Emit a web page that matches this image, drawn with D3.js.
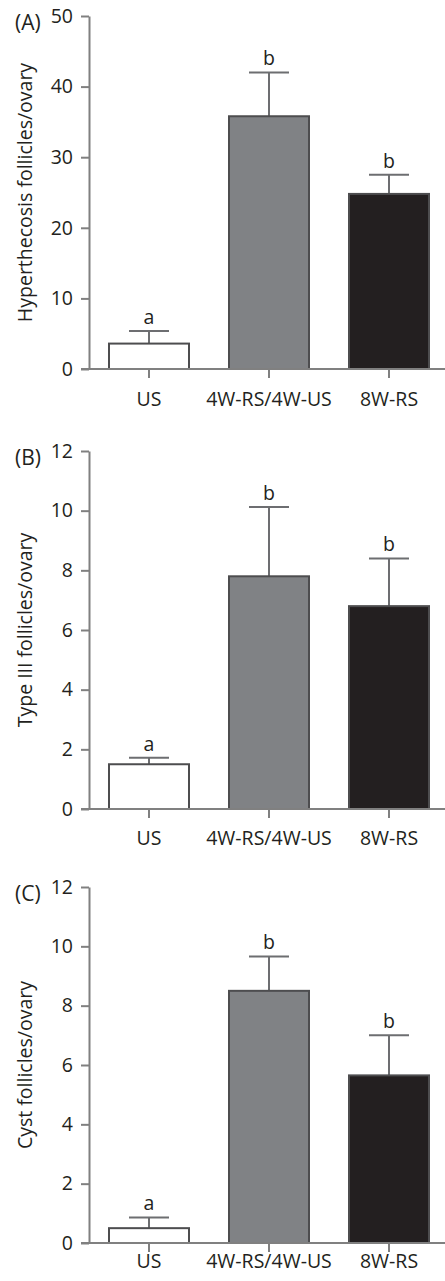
<!DOCTYPE html>
<html>
<head>
<meta charset="utf-8">
<script src="https://cdn.jsdelivr.net/npm/d3@7"></script>
<style>
  body { margin: 0; background: #fff; }
  text { font-family: "Open Sans", sans-serif; fill: #231f20; }
</style>
</head>
<body>
<div id="chart"></div>
<script>
// Data
const groups = ['US', '4W-RS/4W-US', '8W-RS'];
const panelLetters = ['(A)', '(B)', '(C)'];
const yTitles = ['Hyperthecosis follicles/ovary', 'Type III follicles/ovary', 'Cyst follicles/ovary'];
const yMax = [50, 12, 12];
const yTicks = [[0, 10, 20, 30, 40, 50], [0, 2, 4, 6, 8, 10, 12], [0, 2, 4, 6, 8, 10, 12]];
const hypMeans = [3.6, 35.8, 24.8];
const hypErr = [5.4, 42.0, 27.5];
const type3Means = [1.5, 7.8, 6.8];
const type3Err = [1.72, 10.12, 8.4];
const cystMeans = [0.5, 8.5, 5.65];
const cystErr = [0.86, 9.66, 7.0];
const sigLetters = [['a', 'b', 'b'], ['a', 'b', 'b'], ['a', 'b', 'b']];

const means = [hypMeans, type3Means, cystMeans];
const errs = [hypErr, type3Err, cystErr];

// Layout
const W = 445, H = 1281;
const axisX = 89;
const fs = 19.5;
const panels = [
  { top: 16, bottom: 369, labelOff: 37 },
  { top: 451, bottom: 809, labelOff: 36 },
  { top: 887, bottom: 1243, labelOff: 25 }
];
const fills = ['#ffffff', '#808285', '#231f20'];
const axisColor = '#808080';

const svg = d3.select('#chart').append('svg')
  .attr('width', W)
  .attr('height', H);

const x = d3.scaleBand()
  .domain(groups)
  .range([axisX, axisX + 360])
  .paddingInner(1 / 3)
  .paddingOuter(1 / 6);

panels.forEach((p, i) => {
  const g = svg.append('g');
  const y = d3.scaleLinear().domain([0, yMax[i]]).range([p.bottom, p.top]);
  const rows = groups.map((name, j) => ({ name: name, v: means[i][j], e: errs[i][j], s: sigLetters[i][j], fill: fills[j] }));

  // error bars (upper only)
  g.selectAll('.err').data(rows).enter().append('line')
    .attr('x1', d => x(d.name) + x.bandwidth() / 2)
    .attr('x2', d => x(d.name) + x.bandwidth() / 2)
    .attr('y1', d => y(d.v))
    .attr('y2', d => y(d.e))
    .attr('stroke', '#6d6e71')
    .attr('stroke-width', 2);
  g.selectAll('.cap').data(rows).enter().append('line')
    .attr('x1', d => x(d.name) + x.bandwidth() / 4)
    .attr('x2', d => x(d.name) + x.bandwidth() * 3 / 4)
    .attr('y1', d => y(d.e))
    .attr('y2', d => y(d.e))
    .attr('stroke', '#6d6e71')
    .attr('stroke-width', 2);

  // bars
  g.selectAll('.bar').data(rows).enter().append('rect')
    .attr('x', d => x(d.name))
    .attr('y', d => y(d.v))
    .attr('width', x.bandwidth())
    .attr('height', d => y(0) - y(d.v))
    .attr('fill', d => d.fill)
    .attr('stroke', '#4d4d4f')
    .attr('stroke-width', 2);

  // significance letters
  g.selectAll('.sig').data(rows).enter().append('text')
    .attr('x', d => x(d.name) + x.bandwidth() / 2)
    .attr('y', d => y(d.e) - 7)
    .attr('text-anchor', 'middle')
    .attr('font-size', fs)
    .text(d => d.s);

  // y axis
  const yAxis = g.append('g')
    .attr('transform', `translate(${axisX},0)`)
    .call(d3.axisLeft(y).tickValues(yTicks[i]).tickSize(8).tickSizeOuter(0).tickPadding(8));
  yAxis.select('.domain').attr('stroke', axisColor).attr('stroke-width', 2);
  yAxis.selectAll('.tick line').attr('stroke', axisColor).attr('stroke-width', 2);
  yAxis.selectAll('.tick text')
    .attr('font-size', fs)
    .attr('font-family', '"Open Sans", sans-serif')
    .attr('fill', '#231f20');

  // x axis
  const xAxis = g.append('g')
    .attr('transform', `translate(0,${p.bottom})`)
    .call(d3.axisBottom(x).tickSize(9).tickSizeOuter(0).tickPadding(p.labelOff - 23));
  xAxis.select('.domain').remove();
  xAxis.selectAll('.tick line').attr('stroke', axisColor).attr('stroke-width', 2);
  xAxis.selectAll('.tick text')
    .attr('font-size', fs)
    .attr('font-family', '"Open Sans", sans-serif')
    .attr('fill', '#231f20');
  g.append('line')
    .attr('x1', axisX - 8).attr('x2', W)
    .attr('y1', p.bottom).attr('y2', p.bottom)
    .attr('stroke', axisColor)
    .attr('stroke-width', 2);

  // y title
  g.append('text')
    .attr('transform', `translate(32,${(p.top + p.bottom) / 2}) rotate(-90)`)
    .attr('text-anchor', 'middle')
    .attr('font-size', fs)
    .text(yTitles[i]);

  // panel letter
  g.append('text')
    .attr('x', 15)
    .attr('y', p.top + 14)
    .attr('font-size', 21)
    .text(panelLetters[i]);
});
</script>
</body>
</html>
